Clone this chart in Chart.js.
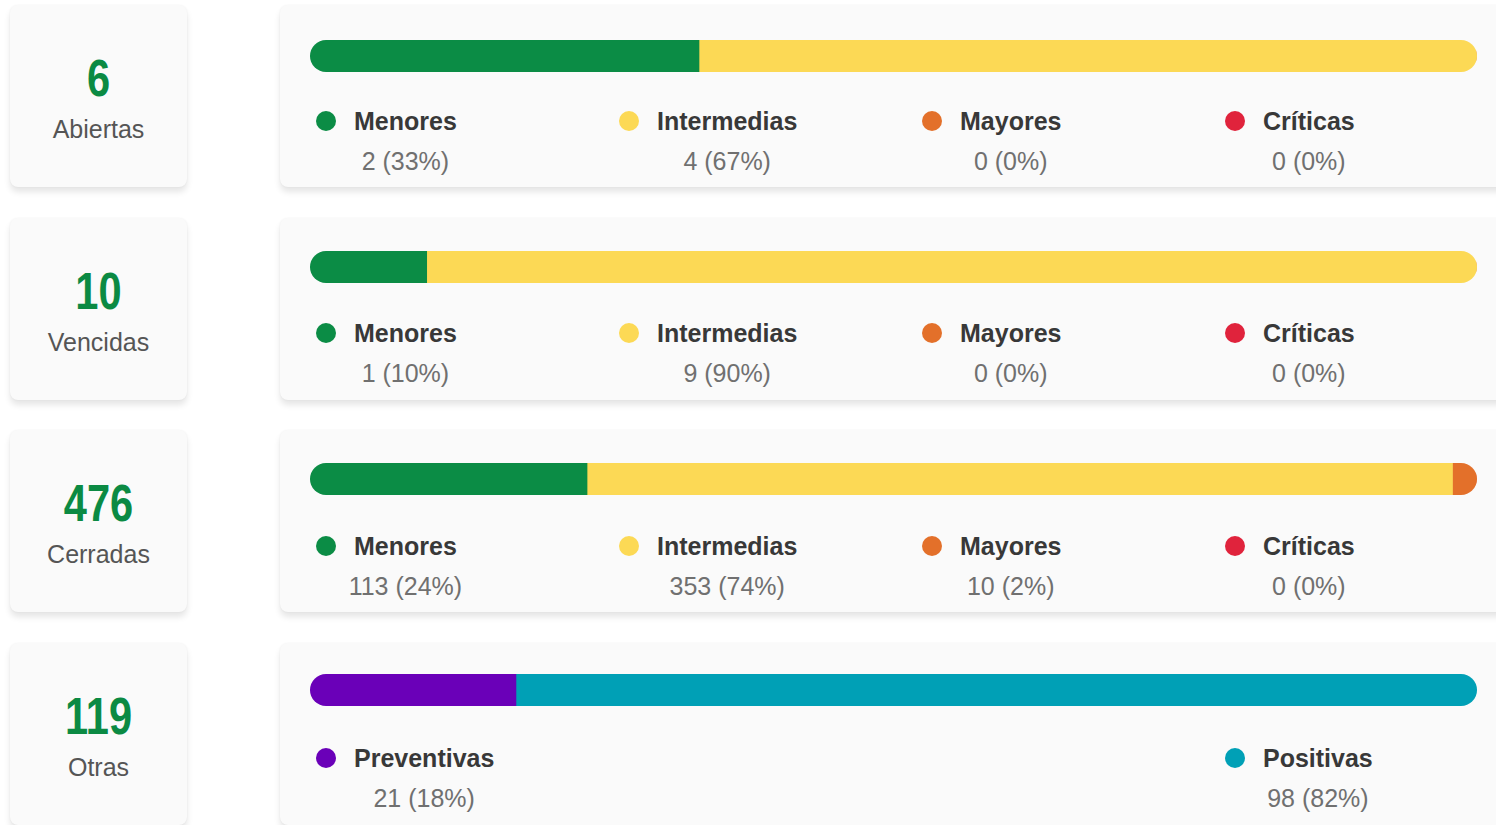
<!DOCTYPE html>
<html>
<head>
<meta charset="utf-8">
<script src="https://cdn.jsdelivr.net/npm/chart.js@4.4.1/dist/chart.umd.min.js"></script>
<style>
  html, body { margin: 0; padding: 0; background: #ffffff; }
  body { width: 1496px; height: 825px; position: relative; overflow: hidden;
         font-family: "Liberation Sans", Arial, sans-serif; }
  .card { position: absolute; background: #fafafa; border-radius: 8px;
          box-shadow: 0 5px 6px rgba(0,0,0,0.10), 0 0 2px rgba(0,0,0,0.05); }
  .num { position: absolute; left: 0; width: 100%; text-align: center;
         font-family: "Liberation Sans", Arial, sans-serif;
         font-weight: bold; font-size: 52px; color: #0b8a43; line-height: 52px;
         transform: scaleX(0.8); }
  .lbl { position: absolute; left: 0; width: 100%; text-align: center;
         font-size: 25px; color: #555; line-height: 26px; }
  .chartbox { position: absolute; }
  .legend { position: absolute; display: grid; grid-template-columns: repeat(4, 303px); }
  .item { display: flex; align-items: flex-start; padding-left: 6px; }
  .dot { width: 20px; height: 20px; border-radius: 50%; margin-top: 7px; margin-right: 18px; flex: none; }
  .txt { display: inline-block; }
  .ltxt { font-weight: bold; font-size: 25px; color: #383838; line-height: 34px; white-space: nowrap; }
  .cwrap { position: relative; height: 46px; }
  .ctxt { position: absolute; left: 50%; top: 0; transform: translateX(-50%);
          font-size: 25px; color: #707070; line-height: 46px; white-space: nowrap; }
</style>
</head>
<body>
<script>
// ---- data ----
const rowNames = ['Abiertas', 'Vencidas', 'Cerradas', 'Otras'];
const severityLabels = ['Menores', 'Intermedias', 'Mayores', 'Críticas'];
const severityColors = ['#0b8c45', '#fcd955', '#e3702a', '#e0233c'];
const abiertasValues = [2, 4, 0, 0];
const vencidasValues = [1, 9, 0, 0];
const cerradasValues = [113, 353, 10, 0];
const otrasLabels = ['Preventivas', 'Positivas'];
const otrasColors = ['#6a00b8', '#00a0b6'];
const otrasValues = [21, 98];

const rows = [
  { name: rowNames[0], labels: severityLabels, colors: severityColors, values: abiertasValues },
  { name: rowNames[1], labels: severityLabels, colors: severityColors, values: vencidasValues },
  { name: rowNames[2], labels: severityLabels, colors: severityColors, values: cerradasValues },
  { name: rowNames[3], labels: otrasLabels, colors: otrasColors, values: otrasValues }
];

// plugin: clip the stacked bar into one pill shape
const pillClip = {
  id: 'pillClip',
  beforeDatasetsDraw(chart) {
    const ctx = chart.ctx;
    const xs = chart.scales.x;
    const total = chart.options.plugins.pillClip.total;
    const el = chart.getDatasetMeta(0).data[0];
    const h = el.height;
    const top = el.y - h / 2, bot = el.y + h / 2;
    const x0 = xs.getPixelForValue(0), x1 = xs.getPixelForValue(total);
    const r = h / 2;
    ctx.save();
    ctx.beginPath();
    ctx.moveTo(x0 + r, top);
    ctx.lineTo(x1 - r, top);
    ctx.arc(x1 - r, el.y, r, -Math.PI / 2, Math.PI / 2);
    ctx.lineTo(x0 + r, bot);
    ctx.arc(x0 + r, el.y, r, Math.PI / 2, Math.PI * 1.5);
    ctx.closePath();
    ctx.clip();
  },
  afterDatasetsDraw(chart) { chart.ctx.restore(); }
};

rows.forEach((row, i) => {
  const T = 5 + i * 212.6;          // card top
  const B = 40 + i * 211.4;         // bar top
  const L = 104 + i * 212.3;        // legend top
  const total = row.values.reduce((a, b) => a + b, 0);

  // left card
  const lc = document.createElement('div');
  lc.className = 'card';
  Object.assign(lc.style, { left: '10px', top: T + 'px', width: '177px', height: '182px' });
  const num = document.createElement('div');
  num.className = 'num'; num.style.top = '47px'; num.textContent = String(total);
  const lbl = document.createElement('div');
  lbl.className = 'lbl'; lbl.style.top = '111px'; lbl.textContent = row.name;
  lc.appendChild(num); lc.appendChild(lbl);
  document.body.appendChild(lc);

  // right card
  const rc = document.createElement('div');
  rc.className = 'card';
  Object.assign(rc.style, { left: '280px', top: T + 'px', width: '1240px', height: '182px' });
  document.body.appendChild(rc);

  // chart
  const box = document.createElement('div');
  box.className = 'chartbox';
  Object.assign(box.style, { left: '300px', top: (B - 4) + 'px', width: '1187px', height: '40px' });
  const cv = document.createElement('canvas');
  box.appendChild(cv);
  document.body.appendChild(box);

  new Chart(cv, {
    type: 'bar',
    data: {
      labels: [row.name],
      datasets: row.labels.map((l, k) => ({
        label: l, data: [row.values[k]], backgroundColor: row.colors[k],
        borderWidth: 0, barPercentage: 1, categoryPercentage: 1
      }))
    },
    options: {
      indexAxis: 'y', responsive: true, maintainAspectRatio: false, animation: false,
      layout: { padding: { left: 10, right: 10, top: 4, bottom: 4 } },
      scales: {
        x: { stacked: true, display: false, min: 0, max: total },
        y: { stacked: true, display: false }
      },
      plugins: { legend: { display: false }, tooltip: { enabled: false }, pillClip: { total } }
    },
    plugins: [pillClip]
  });

  // legend
  const lg = document.createElement('div');
  lg.className = 'legend';
  Object.assign(lg.style, { left: '310px', top: L + 'px' });
  row.labels.forEach((l, k) => {
    const it = document.createElement('div');
    it.className = 'item';
    const col = row.labels.length === 2 ? (k === 0 ? 1 : 4) : k + 1;
    it.style.gridColumn = String(col);
    const d = document.createElement('div');
    d.className = 'dot'; d.style.background = row.colors[k];
    const t = document.createElement('div');
    t.className = 'txt';
    const a = document.createElement('div'); a.className = 'ltxt'; a.textContent = l;
    const pct = Math.round(row.values[k] / total * 100);
    const w = document.createElement('div'); w.className = 'cwrap';
    const b = document.createElement('div'); b.className = 'ctxt';
    b.textContent = row.values[k] + ' (' + pct + '%)';
    w.appendChild(b);
    t.appendChild(a); t.appendChild(w);
    it.appendChild(d); it.appendChild(t);
    lg.appendChild(it);
  });
  document.body.appendChild(lg);
});
</script>
</body>
</html>
